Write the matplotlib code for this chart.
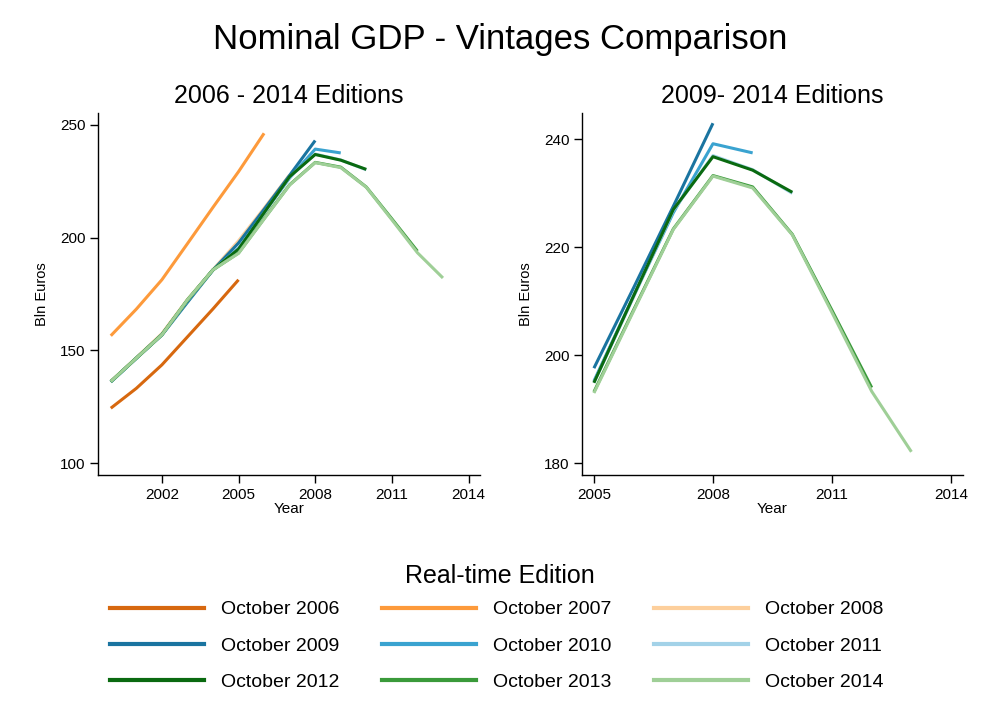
import matplotlib
matplotlib.use("Agg")
import matplotlib.pyplot as plt
from matplotlib.lines import Line2D

plt.rcParams['font.family'] = ['Liberation Sans', 'DejaVu Sans']

editions = ["October 2006", "October 2007", "October 2008",
            "October 2009", "October 2010", "October 2011",
            "October 2012", "October 2013", "October 2014"]
colors = ["#d7680f", "#fd9a3b", "#fdcf9c",
          "#1a74a0", "#3aa3d0", "#a3d2e8",
          "#0a6a10", "#3a9a3a", "#9fcf97"]
start_year = 2000
oct06 = [124.4, 133.2, 143.6, 156.0, 168.4, 181.3]
oct07 = [156.5, 168.3, 181.3, 197.3, 213.4, 229.2, 246.2]
oct08 = [136.3, 146.8, 157.5, 172.6, 185.8, 198.6, 213.0, 227.8]
oct09 = [136.0, 146.5, 156.8, 171.3, 185.6, 197.6, 212.5, 227.6, 243.0]
oct10 = [136.1, 146.6, 157.0, 172.0, 185.7, 195.2, 211.0, 226.4, 239.2, 237.5]
oct11 = [136.1, 146.6, 157.0, 172.1, 185.7, 194.9, 210.8, 226.8, 237.0, 234.4, 230.0]
oct12 = [136.2, 146.6, 157.0, 172.2, 185.7, 194.9, 211.0, 227.0, 236.8, 234.3, 230.2]
oct13 = [136.2, 146.6, 156.9, 172.4, 185.7, 193.2, 208.4, 223.4, 233.3, 231.2, 222.4, 208.3, 194.0]
oct14 = [136.2, 146.6, 156.9, 172.4, 185.7, 193.0, 208.2, 223.3, 233.2, 231.0, 222.3, 207.9, 193.3, 182.1]
series = [oct06, oct07, oct08, oct09, oct10, oct11, oct12, oct13, oct14]

left_xticks = [2002, 2005, 2008, 2011, 2014]
left_yticks = [100, 150, 200, 250]
right_xticks = [2005, 2008, 2011, 2014]
right_yticks = [180, 200, 220, 240]
right_first_edition = 3
right_start_year = 2005

fig = plt.figure(figsize=(10, 7.27), dpi=100)
axL = fig.add_axes([0.098, 0.3466, 0.382, 0.498])
axR = fig.add_axes([0.582, 0.3466, 0.381, 0.498])

lw = 2.2
for name, col, vals in zip(editions, colors, series):
    yrs = list(range(start_year, start_year + len(vals)))
    axL.plot(yrs, vals, color=col, lw=lw, label=name, solid_capstyle='butt')

for name, col, vals in list(zip(editions, colors, series))[right_first_edition:]:
    yrs = list(range(start_year, start_year + len(vals)))
    pairs = [(y, v) for y, v in zip(yrs, vals) if y >= right_start_year]
    axR.plot([p[0] for p in pairs], [p[1] for p in pairs], color=col, lw=lw,
             solid_capstyle='butt')

def style(ax, xt, yt, xlim, ylim, title):
    ax.set_xlim(*xlim)
    ax.set_ylim(*ylim)
    ax.set_xticks(xt)
    ax.set_yticks(yt)
    ax.spines['top'].set_visible(False)
    ax.spines['right'].set_visible(False)
    for s in ['left', 'bottom']:
        ax.spines[s].set_linewidth(1.0)
    ax.tick_params(direction='out', length=6, width=1.0, labelsize=11, pad=3)
    ax.set_xlabel("Year", fontsize=11, labelpad=0)
    ax.set_ylabel("Bln Euros", fontsize=10.5, labelpad=8)
    ax.set_title(title, fontsize=18, pad=7)

style(axL, left_xticks, left_yticks, (1999.5, 2014.45), (94.8, 255.2), "2006 - 2014 Editions")
style(axR, right_xticks, right_yticks, (2004.7, 2014.3), (177.8, 244.9), "2009- 2014 Editions")

fig.suptitle("Nominal GDP - Vintages Comparison", fontsize=25, y=0.968)

fig.text(0.5, 1 - 576 / 727, "Real-time Edition", fontsize=18, ha='center', va='center')

order = [0, 3, 6, 1, 4, 7, 2, 5, 8]
leg_handles = [Line2D([0], [0], color=colors[i], lw=3) for i in order]
leg_labels = [editions[i] for i in order]
leg = fig.legend(leg_handles, leg_labels, ncol=3, loc='center',
                 bbox_to_anchor=(0.497, 1 - 646 / 727), frameon=False, fontsize=14,
                 handlelength=4.8, handletextpad=0.9, columnspacing=2.2,
                 labelspacing=0.97)

fig.savefig("out.png", dpi=100)
